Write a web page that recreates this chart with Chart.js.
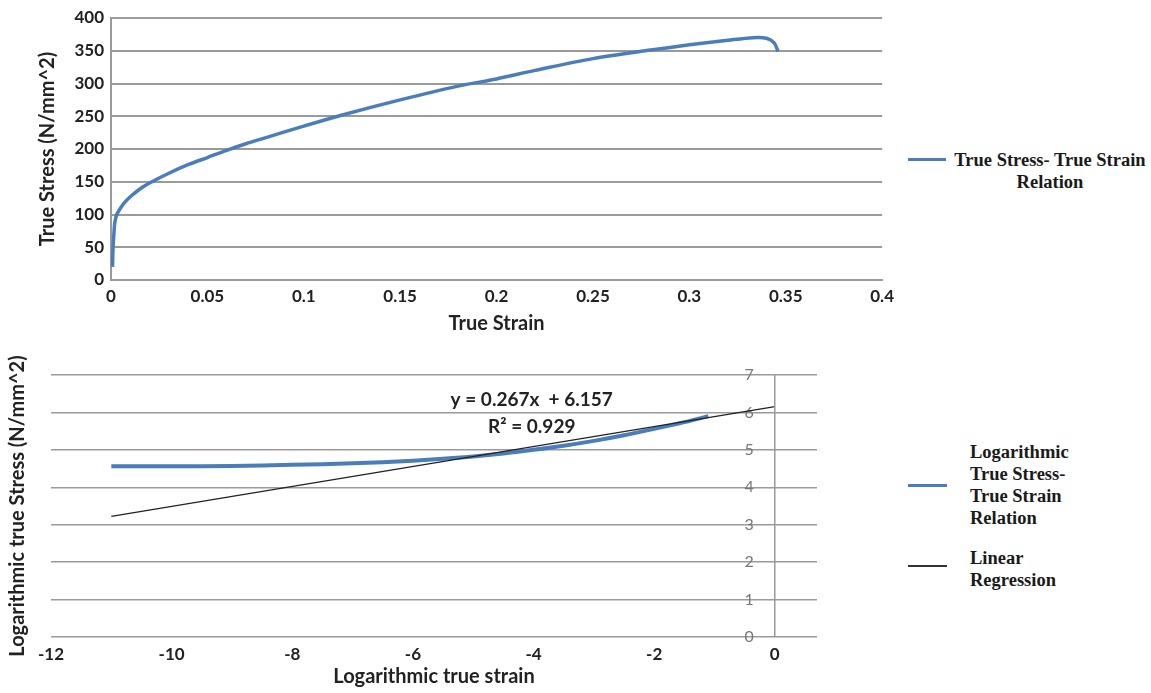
<!DOCTYPE html>
<html>
<head>
<meta charset="utf-8">
<script src="https://cdn.jsdelivr.net/npm/chart.js@4.4.0/dist/chart.umd.min.js"></script>
<style>
  body { margin: 0; background: #fff; width: 1151px; height: 693px; position: relative; overflow: hidden; }
  canvas { position: absolute; left: 0; }
  #c1 { top: 0; }
  #c2 { top: 345px; }
  .leg { position: absolute; font-family: "Liberation Serif", serif; font-size: 18.5px; font-weight: bold; color: #1a1a1a; line-height: 22px; }
  .swatch { position: absolute; height: 3px; }
</style>
</head>
<body>
<canvas id="c1" width="900" height="340"></canvas>
<canvas id="c2" width="900" height="348"></canvas>

<div class="swatch" style="left:908px;top:158px;width:38px;background:#4a7ebb"></div>
<div class="leg" style="left:945px;top:149px;width:210px;text-align:center">True Stress- True Strain<br>Relation</div>

<div class="swatch" style="left:908px;top:484px;width:39px;background:#4a7ebb"></div>
<div class="leg" style="left:970px;top:441px">Logarithmic<br>True Stress-<br>True Strain<br>Relation</div>
<div class="swatch" style="left:908px;top:565px;width:39px;height:2px;background:#333"></div>
<div class="leg" style="left:970px;top:547px">Linear<br>Regression</div>

<script>
// top chart: true stress vs true strain
const strain = [0.0008, 0.001, 0.0015, 0.002, 0.003, 0.005, 0.007, 0.01, 0.015, 0.02, 0.03, 0.04, 0.05, 0.06, 0.07, 0.08, 0.1, 0.12, 0.15, 0.18, 0.2, 0.22, 0.25, 0.28, 0.3, 0.32, 0.333, 0.34, 0.344, 0.346];
const stress = [20, 45, 70, 88, 100, 110, 118, 127, 139, 148, 163, 176, 187, 198, 208, 217, 235, 252, 275, 296, 307, 320, 338, 351, 359, 366, 370, 369, 362, 349];

// bottom chart: logarithmic values + regression line
const logStrain = [-11, -10, -9, -8, -7, -6.5, -6, -5.5, -5, -4.5, -4, -3.5, -3, -2.5, -2, -1.5, -1.1];
const logStress = [4.56, 4.56, 4.57, 4.6, 4.64, 4.67, 4.71, 4.76, 4.82, 4.9, 5.0, 5.11, 5.24, 5.39, 5.56, 5.74, 5.9];
const regX = [-11, 0];
const regY = [3.22, 6.157];
const logXTicks = [-12, -10, -8, -6, -4, -2, 0];
const eqText = ['y = 0.267x  + 6.157', 'R\u00b2 = 0.929'];

const tickFont = { family: 'Lato', size: 17, weight: 'bold' };
const titleFont = { family: 'Lato', size: 20, weight: 'bold' };
const gridCol = '#9a9a9a';
const blue = '#4a7ebb';

function pts(xs, ys) {
    return xs.map((x, i) => ({ x: x, y: ys[i] }));
}

new Chart(document.getElementById('c1'), {
    type: 'scatter',
    data: {
        datasets: [{
            label: 'True Stress- True Strain Relation',
            data: pts(strain, stress),
            showLine: true,
            borderColor: blue,
            borderWidth: 3.5,
            pointRadius: 0,
            tension: 0.3
        }]
    },
    options: {
        responsive: false,
        animation: false,
        layout: { padding: { top: 18, right: 12, left: 36, bottom: 0 } },
        plugins: { legend: { display: false }, tooltip: { enabled: false } },
        scales: {
            x: {
                min: 0, max: 0.4,
                ticks: {
                    stepSize: 0.05, font: tickFont, color: '#222', padding: 6, maxRotation: 0,
                    callback: v => String(+v.toFixed(2))
                },
                grid: { display: false, drawTicks: false },
                border: { display: true, color: gridCol, width: 2 },
                title: { display: true, text: 'True Strain', font: titleFont, color: '#222', padding: { top: 6 } },
                afterFit: function (s) { s.height = 60; }
            },
            y: {
                min: 0, max: 400,
                ticks: { stepSize: 50, font: tickFont, color: '#222', padding: 7 },
                grid: { color: gridCol, lineWidth: 2, drawTicks: false },
                border: { display: true, color: gridCol, width: 2 },
                title: { display: true, text: 'True Stress (N/mm^2)', font: titleFont, color: '#222', padding: 0 },
                afterFit: function (s) { s.width = 75; }
            }
        }
    }
});

const eqPlugin = {
    id: 'eq',
    afterDatasetsDraw(chart) {
        const ctx = chart.ctx;
        const xs = chart.scales.x, ys = chart.scales.y;
        ctx.save();
        // y axis line crossing at x = 0
        ctx.strokeStyle = gridCol;
        ctx.lineWidth = 1.5;
        ctx.beginPath();
        ctx.moveTo(xs.getPixelForValue(0), ys.getPixelForValue(7));
        ctx.lineTo(xs.getPixelForValue(0), ys.getPixelForValue(0));
        ctx.stroke();
        ctx.font = 'bold 19px Lato';
        ctx.fillStyle = '#222';
        ctx.textAlign = 'center';
        ctx.textBaseline = 'middle';
        ctx.fillText(eqText[0], xs.getPixelForValue(-4.03), ys.getPixelForValue(6.34));
        ctx.fillText(eqText[1], xs.getPixelForValue(-4.03), ys.getPixelForValue(5.62));
        ctx.restore();
    }
};

new Chart(document.getElementById('c2'), {
    type: 'scatter',
    data: {
        datasets: [{
            label: 'Logarithmic True Stress-True Strain Relation',
            data: pts(logStrain, logStress),
            showLine: true,
            borderColor: blue,
            borderWidth: 4,
            pointRadius: 0,
            tension: 0.3,
            order: 1
        }, {
            label: 'Linear Regression',
            data: pts(regX, regY),
            showLine: true,
            borderColor: '#222',
            borderWidth: 1.3,
            pointRadius: 0,
            order: 0
        }]
    },
    plugins: [eqPlugin],
    options: {
        responsive: false,
        animation: false,
        layout: { padding: { top: 30, right: 83, left: 6, bottom: 0 } },
        plugins: { legend: { display: false }, tooltip: { enabled: false } },
        scales: {
            x: {
                min: -12, max: 0.7,
                ticks: { font: tickFont, color: '#222', padding: 7, maxRotation: 0, autoSkip: false },
                afterBuildTicks: function (s) { s.ticks = logXTicks.map(v => ({ value: v })); },
                grid: { display: false, drawTicks: false },
                border: { display: false },
                title: { display: true, text: 'Logarithmic true strain', font: titleFont, color: '#222', padding: { top: 3 } },
                afterFit: function (s) { s.height = 56; }
            },
            y: {
                position: { x: -0.35 },
                min: 0, max: 7,
                ticks: { stepSize: 1, font: { family: 'Lato', size: 16 }, color: '#777' },
                grid: { color: gridCol, lineWidth: 1.5, drawTicks: false },
                border: { display: false }
            },
            yt: {
                position: 'left',
                min: 0, max: 7,
                ticks: { display: false },
                grid: { display: false },
                border: { display: false },
                title: { display: true, text: 'Logarithmic true Stress (N/mm^2)', font: titleFont, color: '#222', padding: 0 },
                afterFit: function (s) { s.width = 45; }
            }
        }
    }
});
</script>
</body>
</html>
